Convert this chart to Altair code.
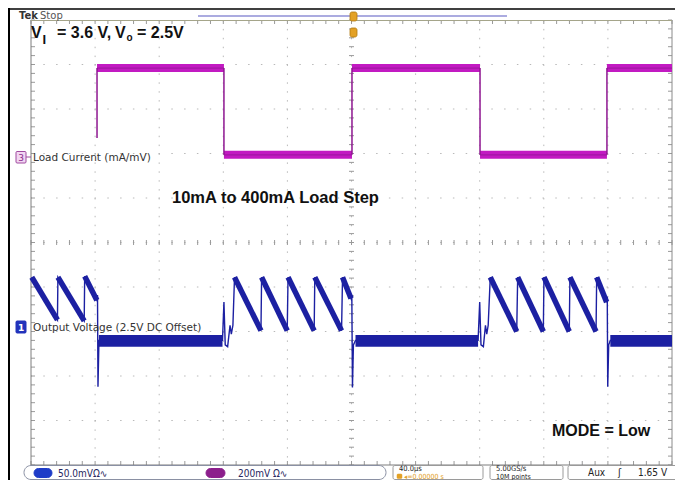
import altair as alt
import numpy as np
import pandas as pd

# ---------------- layout (page pixels) ----------------
W, H = 641, 445          # graticule size
X0, Y0 = 31, 20          # graticule top-left on the page


def px(X):
    return X - X0


def py(Y):
    return Y - Y0


# ---------------- scope settings ----------------
T_DOMAIN = [-200, 200]       # µs, 40 µs/div, 10 div
D_DOMAIN = [-5, 5]           # vertical divisions
CH1_MV_PER_DIV = 50.0
CH1_REF_DIV = -1.90
CH3_MA_PER_DIV = 200.0
CH3_REF_DIV = 1.92

# ---------------- channel 3 : load current (mA) ----------------
load_t0 = [-158.8, -79.6, 0.3, 80.2, 159.4]
load_t1 = [-79.6, 0.3, 80.2, 159.4, 200.0]
load_mA = [400, 10, 400, 10, 400]
edge_t = [-158.8, -79.6, 0.3, 80.2, 159.4]
edge_from_mA = [86, 400, 10, 400, 10]
edge_to_mA = [400, 10, 400, 10, 400]

# ---------------- channel 1 : output voltage (mV, AC part) ----------------
vout_t = [-199.5, -183.5, -183.2, -166.8, -166.5, -158.9, -158.5, -158.2, -157.6,
          -80.5, -79.6, -78.8, -77.3, -75.8, -75.0, -74.0, -73.0,
          -56.5, -56.1, -40.1, -39.6, -23.3, -22.9, -6.2, -5.6, -0.3, 0.2, 0.6, 1.2, 2.5,
          79.0, 80.0, 80.8, 82.3, 83.6, 84.4, 85.3, 86.6,
          103.1, 103.7, 119.7, 120.1, 135.9, 136.3, 152.6, 153.0, 159.2, 159.6, 159.9, 160.5, 161.5,
          200.0]
vout_mV = [56, 8, 56, 7, 57, 30, 36, -67, -15,
           -15, 28, -20, -22, 2, -8, 2, 56,
           -4, 56, -4, 56, -4, 56, -4, 56, 32, 36, -68, -20, -15,
           -15, 28, -20, -22, 2, -8, 2, 56,
           -5, 56, -5, 56, -5, 56, -5, 56, 28, 34, -67, -20, -15,
           -15]

ramp_t0 = [-199.5, -183.2, -166.5, -73.0, -56.1, -39.6, -22.9, -5.6,
           86.6, 103.7, 120.1, 136.3, 153.0]
ramp_mV0 = [56, 56, 57, 56, 56, 56, 56, 56, 56, 56, 56, 56, 56]
ramp_t1 = [-183.5, -166.8, -158.9, -56.5, -40.1, -23.3, -6.2, -0.3,
           103.1, 119.7, 135.9, 152.6, 159.2]
ramp_mV1 = [8, 7, 30, -4, -4, -4, -4, 32, -5, -5, -5, -5, 28]

flat_t0 = [-157.6, 2.5, 161.5]
flat_t1 = [-80.5, 79.0, 200.0]
flat_lo_mV = [-22, -22, -22]
flat_hi_mV = [-9, -9, -9]

# ---------------- colours ----------------
MAG = "#C21AC2"
MAG_DARK = "#8E1690"
BLUE = "#1C20A2"
GRID = "#b9b9b9"
ORANGE = "#E3A126"

xs = alt.Scale(domain=T_DOMAIN, nice=False, zero=False)
ys = alt.Scale(domain=D_DOMAIN, nice=False, zero=False)


def X(f):
    return alt.X(f, type="quantitative", scale=xs, axis=None)


def Y(f):
    return alt.Y(f, type="quantitative", scale=ys, axis=None)


dummy = pd.DataFrame({"k": [0]})


def txt(s, Xp, Yp, size, weight="normal", color="#111111",
        font="Liberation Sans", align="left"):
    return alt.Chart(dummy).mark_text(
        text=s, fontSize=size, fontWeight=weight, color=color, font=font,
        align=align, baseline="alphabetic"
    ).encode(x=alt.value(px(Xp)), y=alt.value(py(Yp)))


def box(X1, Y1, X2, Y2, fill="white", stroke="#999999", sw=1.0, r=0, fo=1.0):
    return alt.Chart(dummy).mark_rect(
        fill=fill, stroke=stroke, strokeWidth=sw, cornerRadius=r, fillOpacity=fo
    ).encode(x=alt.value(px(X1)), x2=alt.value(px(X2)),
             y=alt.value(py(Y1)), y2=alt.value(py(Y2)))


def seg(X1, Y1, X2, Y2, color, sw=1.0):
    return alt.Chart(dummy).mark_rule(color=color, strokeWidth=sw).encode(
        x=alt.value(px(X1)), x2=alt.value(px(X2)),
        y=alt.value(py(Y1)), y2=alt.value(py(Y2)))


layers = []

# ---------------- graticule ----------------
grid_t = pd.DataFrame({"t": [-160, -120, -80, -40, 0, 40, 80, 120, 160]})
grid_d = pd.DataFrame({"d": [-4, -3, -2, -1, 0, 1, 2, 3, 4]})
layers.append(alt.Chart(grid_t).mark_rule(color=GRID, strokeWidth=1, strokeDash=[1.5, 7.4])
              .encode(x=X("t")))
layers.append(alt.Chart(grid_d).mark_rule(color=GRID, strokeWidth=1, strokeDash=[1.5, 11.3])
              .encode(y=Y("d")))

minor_t = pd.DataFrame({"t": np.round(np.arange(-200, 200.001, 8), 4)})
minor_d = pd.DataFrame({"d": np.round(np.arange(-5, 5.001, 0.2), 4)})
tick_col = "#9a9a9a"
layers.append(alt.Chart(minor_t).mark_rule(color=tick_col).encode(
    x=X("t"), y=alt.value(0), y2=alt.value(4)))
layers.append(alt.Chart(minor_t).mark_rule(color=tick_col).encode(
    x=X("t"), y=alt.value(H), y2=alt.value(H - 4)))
layers.append(alt.Chart(minor_t).mark_rule(color=tick_col).encode(
    x=X("t"), y=alt.value(H / 2 - 2.5), y2=alt.value(H / 2 + 2.5)))
layers.append(alt.Chart(minor_d).mark_rule(color=tick_col).encode(
    y=Y("d"), x=alt.value(0), x2=alt.value(4)))
layers.append(alt.Chart(minor_d).mark_rule(color=tick_col).encode(
    y=Y("d"), x=alt.value(W), x2=alt.value(W - 4)))
layers.append(alt.Chart(minor_d).mark_rule(color=tick_col).encode(
    y=Y("d"), x=alt.value(W / 2 - 2.5), x2=alt.value(W / 2 + 2.5)))

# border of graticule
layers.append(seg(31, 20, 31, 465, "#7d7d7d", 1))
layers.append(seg(672, 20, 672, 465, "#8a8a8a", 1))
layers.append(seg(31, 465, 672, 465, "#7d7d7d", 1))
layers.append(seg(31, 20.5, 672, 20.5, "#a5a58a", 1))

# ---------------- channel 3 trace ----------------
ch3_calc = f"{CH3_REF_DIV} + datum.mA / {CH3_MA_PER_DIV}"
df_load = pd.DataFrame({"t0": load_t0, "t1": load_t1, "mA": load_mA})
layers.append(alt.Chart(df_load).transform_calculate(d=ch3_calc)
              .mark_rule(color=MAG, strokeWidth=8)
              .encode(x=X("t0"), x2="t1", y=Y("d")))
layers.append(alt.Chart(df_load).transform_calculate(d=ch3_calc)
              .mark_rule(color=MAG_DARK, strokeWidth=1.2, opacity=0.6)
              .encode(x=X("t0"), x2="t1", y=Y("d")))
df_edge = pd.DataFrame({"t": edge_t, "a": edge_from_mA, "b": edge_to_mA})
layers.append(alt.Chart(df_edge).transform_calculate(
    d0=f"{CH3_REF_DIV} + datum.a / {CH3_MA_PER_DIV}",
    d1=f"{CH3_REF_DIV} + datum.b / {CH3_MA_PER_DIV}")
    .mark_rule(color=MAG_DARK, strokeWidth=1.5)
    .encode(x=X("t"), y=Y("d0"), y2="d1"))

# ---------------- channel 1 trace ----------------
df_v = pd.DataFrame({"t": vout_t, "mV": vout_mV, "o": list(range(len(vout_t)))})
layers.append(alt.Chart(df_v).transform_calculate(
    d=f"{CH1_REF_DIV} + datum.mV / {CH1_MV_PER_DIV}")
    .mark_line(color=BLUE, strokeWidth=1.4)
    .encode(x=X("t"), y=Y("d"), order="o:Q"))
df_flat = pd.DataFrame({"t0": flat_t0, "t1": flat_t1, "lo": flat_lo_mV, "hi": flat_hi_mV})
layers.append(alt.Chart(df_flat).transform_calculate(
    d0=f"{CH1_REF_DIV} + datum.lo / {CH1_MV_PER_DIV}",
    d1=f"{CH1_REF_DIV} + datum.hi / {CH1_MV_PER_DIV}")
    .mark_rect(color=BLUE)
    .encode(x=X("t0"), x2="t1", y=Y("d0"), y2="d1"))
df_ramp = pd.DataFrame({"t0": ramp_t0, "v0": ramp_mV0, "t1": ramp_t1, "v1": ramp_mV1})
layers.append(alt.Chart(df_ramp).transform_calculate(
    d0=f"{CH1_REF_DIV} + datum.v0 / {CH1_MV_PER_DIV}",
    d1=f"{CH1_REF_DIV} + datum.v1 / {CH1_MV_PER_DIV}")
    .mark_rule(color=BLUE, strokeWidth=5.5)
    .encode(x=X("t0"), x2="t1", y=Y("d0"), y2="d1"))

# ---------------- screen chrome ----------------
layers.append(seg(9, -10, 9, 500, "#000000", 2))
layers.append(seg(9, 9, 690, 9, "#000000", 1.5))

layers.append(txt("Tek", 19, 19, 10, "bold", "#333333", "DejaVu Sans"))
layers.append(txt("Stop", 40, 19, 10, "normal", "#555555", "DejaVu Sans"))
layers.append(seg(198, 16, 507, 16, "#8f8fd6", 1.5))
layers.append(box(350, 12, 357, 21, ORANGE, "#b07a10", 0.8, 2))
layers.append(box(350, 28, 357, 37, ORANGE, "#b07a10", 0.8, 2))

# channel markers and labels
layers.append(box(16, 151.5, 26, 163, "#f2d6f2", "#a04aa0", 1, 1))
layers.append(txt("3", 21, 161, 9, "normal", "#8a2a8a", "DejaVu Sans", "center"))
layers.append(seg(26, 157, 31, 157, "#a04aa0", 1))
layers.append(txt("Load Current (mA/mV)", 33, 161, 10.5, "normal", "#333333", "DejaVu Sans"))
layers.append(box(16, 321, 26, 333, "#2233bb", "#2233bb", 1, 1))
layers.append(txt("1", 21, 331, 9, "bold", "#ffffff", "DejaVu Sans", "center"))
layers.append(txt("Output Voltage (2.5V DC Offset)", 33, 331, 10.5, "normal", "#333333", "DejaVu Sans"))

# annotations
layers.append(txt("V", 31, 38, 16, "bold"))
layers.append(txt("I", 42.5, 43.5, 13, "bold"))
layers.append(txt("= 3.6 V,", 57, 38, 16, "bold"))
layers.append(txt("V", 115, 38, 16, "bold"))
layers.append(txt("o", 126.5, 41, 10, "bold"))
layers.append(txt("= 2.5V", 137, 38, 16, "bold"))
layers.append(txt("10mA to 400mA Load Step", 172, 203, 16.5, "bold"))
layers.append(txt("MODE = Low", 552, 436, 16, "bold"))

# status bar (squeezed into the bottom strip of the page)
SB = "'DejaVu Sans Condensed', 'DejaVu Sans'"
layers.append(box(24, 465.5, 386, 479.5, "white", "#8a90a3", 1, 7))
layers.append(box(34, 468.5, 52, 477.5, "#1e3cc8", "#1e3cc8", 1, 4.5))
layers.append(txt("50.0mVΩ∿", 58, 476.5, 10, "normal", "#262660", SB))
layers.append(box(206, 468.5, 225, 477.5, "#8c1e8c", "#8c1e8c", 1, 4.5))
layers.append(txt("200mV Ω∿", 238, 476.5, 10, "normal", "#262660", SB))
layers.append(box(393, 465.5, 483, 479.5, "white", "#9a9a9a", 1, 2))
layers.append(txt("40.0µs", 399, 470.5, 7.5, "normal", "#222222", SB))
layers.append(box(397, 474, 402, 478.5, ORANGE, ORANGE, 0.5, 1))
layers.append(txt("◂=0.00000 s", 404, 478.5, 7, "normal", ORANGE, SB))
layers.append(box(490, 465.5, 563, 479.5, "white", "#9a9a9a", 1, 2))
layers.append(txt("5.00GS/s", 496, 470.5, 7.5, "normal", "#222222", SB))
layers.append(txt("10M points", 496, 478.5, 7, "normal", "#222222", SB))
layers.append(box(568, 465.5, 677, 479.5, "white", "#9a9a9a", 1, 2))
layers.append(txt("Aux", 588, 476, 10, "normal", "#222222", SB))
layers.append(txt("ʃ", 618, 476, 10.5, "normal", "#222222", SB))
layers.append(txt("1.65 V", 638, 476, 10, "normal", "#222222", SB))

chart = alt.layer(*layers).properties(
    width=W, height=H,
    padding={"left": 23, "top": 12, "right": 3, "bottom": 15},
    autosize=alt.AutoSizeParams(type="none"),
    background="white",
).configure_view(stroke=None)

chart.save("out.html", embed_options={"renderer": "svg", "actions": False})
